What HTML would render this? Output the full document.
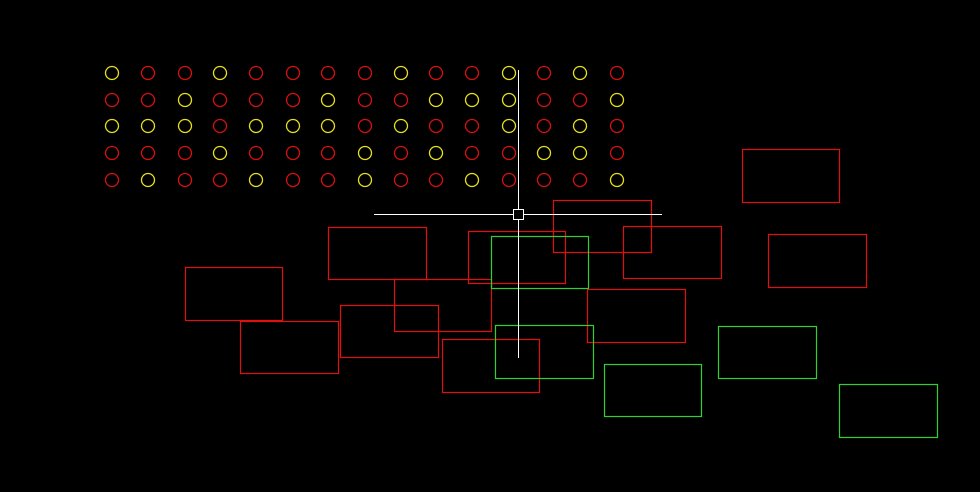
<!DOCTYPE html>
<html><head><style>html,body{margin:0;padding:0;background:#000;width:980px;height:492px;overflow:hidden}</style></head>
<body>
<svg width="980" height="492" viewBox="0 0 980 492" xmlns="http://www.w3.org/2000/svg">
<rect width="980" height="492" fill="#000"/>
<g fill="none" stroke-width="1.3" id="c"></g>
<g fill="none" stroke="#e01010" stroke-width="1.2">
<rect x="742.5" y="149.5" width="97" height="53"/>
<rect x="553.5" y="200.5" width="98" height="52"/>
<rect x="328.5" y="227.5" width="98" height="52"/>
<rect x="468.5" y="231.5" width="97" height="52"/>
<rect x="623.5" y="226.5" width="98" height="52"/>
<rect x="768.5" y="234.5" width="98" height="53"/>
<rect x="185.5" y="267.5" width="97" height="53"/>
<rect x="394.5" y="279.5" width="97" height="52"/>
<rect x="587.5" y="289.5" width="98" height="53"/>
<rect x="340.5" y="305.5" width="98" height="52"/>
<rect x="240.5" y="321.5" width="98" height="52"/>
<rect x="442.5" y="339.5" width="97" height="53"/>
</g>
<g fill="none" stroke="#30d030" stroke-width="1.2">
<rect x="491.5" y="236.5" width="97" height="52"/>
<rect x="495.5" y="325.5" width="98" height="53"/>
<rect x="718.5" y="326.5" width="98" height="52"/>
<rect x="604.5" y="364.5" width="97" height="52"/>
<rect x="839.5" y="384.5" width="98" height="53"/>
</g>
<g stroke="#fff" stroke-width="1" fill="none">
<line x1="374" y1="214.5" x2="662" y2="214.5"/>
<line x1="518.5" y1="70" x2="518.5" y2="358"/>
<rect x="513.5" y="209.5" width="10" height="10" fill="#000"/>
</g>
</svg>
<script>
var rows=["YRRYRRRRYRRYRYR","RRYRRRYRRYYYRRY","YYYRYYYRYRRYRYR","RRRYRRRYRYRRYYR","RYRRYRRYRRYRRRY"];
var xs=[112,148,185,220,256,293,328,365,401,436,472,509,544,580,617],ys=[73,100,126,153,180];
var g=document.getElementById('c'),s='';
rows.forEach(function(r,i){for(var j=0;j<15;j++){s+='<circle cx="'+xs[j]+'" cy="'+ys[i]+'" r="6.5" stroke="'+(r[j]=='Y'?'#e8e020':'#d81010')+'"/>';}});
g.innerHTML=s;
</script>
</body></html>
